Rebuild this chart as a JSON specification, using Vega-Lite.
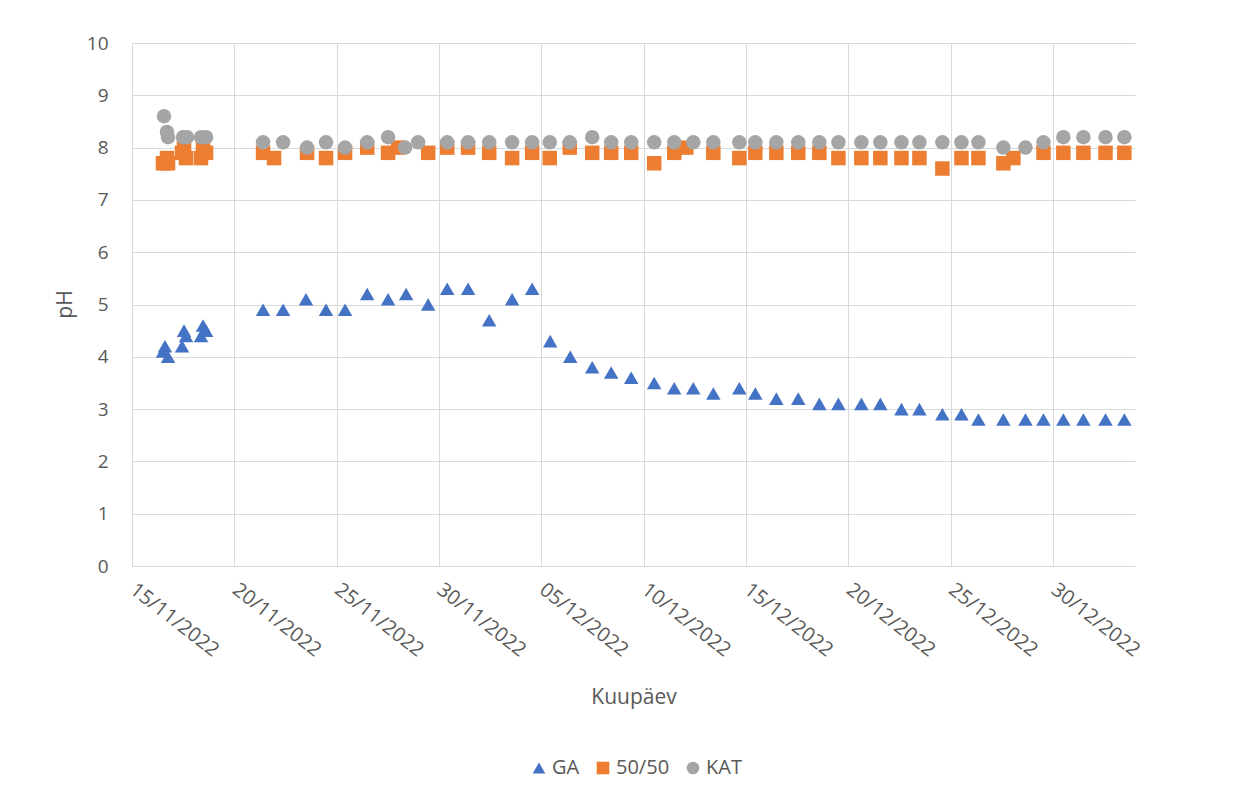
{
  "$schema": "https://vega.github.io/schema/vega-lite/v6.json",
  "autosize": {"type": "none"},
  "width": 1003,
  "height": 523,
  "padding": {"left": 132, "top": 43, "right": 113, "bottom": 234},
  "background": "white",
  "config": {
    "view": {"stroke": null},
    "font": "Open Sans",
    "axis": {"labelColor": "#595959", "titleColor": "#595959", "labelFont": "Open Sans", "titleFont": "Open Sans", "labelFontSize": 19, "titleFontSize": 21, "titleFontWeight": "normal", "gridColor": "#D9D9D9", "gridWidth": 1, "domain": false, "ticks": false}
  },
  "data": {"values": [
    {"series": "GA", "date": "2022-11-16T12:20:00", "pH": 4.1},
    {"series": "GA", "date": "2022-11-16T14:40:00", "pH": 4.2},
    {"series": "GA", "date": "2022-11-16T18:15:00", "pH": 4.0},
    {"series": "GA", "date": "2022-11-17T10:40:00", "pH": 4.2},
    {"series": "GA", "date": "2022-11-17T13:00:00", "pH": 4.5},
    {"series": "GA", "date": "2022-11-17T15:20:00", "pH": 4.4},
    {"series": "GA", "date": "2022-11-18T08:55:00", "pH": 4.4},
    {"series": "GA", "date": "2022-11-18T11:15:00", "pH": 4.6},
    {"series": "GA", "date": "2022-11-18T14:50:00", "pH": 4.5},
    {"series": "GA", "date": "2022-11-21T09:40:00", "pH": 4.9},
    {"series": "GA", "date": "2022-11-22T09:10:00", "pH": 4.9},
    {"series": "GA", "date": "2022-11-23T12:00:00", "pH": 5.1},
    {"series": "GA", "date": "2022-11-24T11:30:00", "pH": 4.9},
    {"series": "GA", "date": "2022-11-25T09:50:00", "pH": 4.9},
    {"series": "GA", "date": "2022-11-26T11:45:00", "pH": 5.2},
    {"series": "GA", "date": "2022-11-27T12:15:00", "pH": 5.1},
    {"series": "GA", "date": "2022-11-28T09:25:00", "pH": 5.2},
    {"series": "GA", "date": "2022-11-29T11:15:00", "pH": 5.0},
    {"series": "GA", "date": "2022-11-30T09:35:00", "pH": 5.3},
    {"series": "GA", "date": "2022-12-01T10:05:00", "pH": 5.3},
    {"series": "GA", "date": "2022-12-02T10:50:00", "pH": 4.7},
    {"series": "GA", "date": "2022-12-03T13:40:00", "pH": 5.1},
    {"series": "GA", "date": "2022-12-04T13:10:00", "pH": 5.3},
    {"series": "GA", "date": "2022-12-05T10:20:00", "pH": 4.3},
    {"series": "GA", "date": "2022-12-06T09:50:00", "pH": 4.0},
    {"series": "GA", "date": "2022-12-07T11:35:00", "pH": 3.8},
    {"series": "GA", "date": "2022-12-08T09:50:00", "pH": 3.7},
    {"series": "GA", "date": "2022-12-09T09:20:00", "pH": 3.6},
    {"series": "GA", "date": "2022-12-10T12:15:00", "pH": 3.5},
    {"series": "GA", "date": "2022-12-11T11:45:00", "pH": 3.4},
    {"series": "GA", "date": "2022-12-12T10:05:00", "pH": 3.4},
    {"series": "GA", "date": "2022-12-13T09:35:00", "pH": 3.3},
    {"series": "GA", "date": "2022-12-14T16:05:00", "pH": 3.4},
    {"series": "GA", "date": "2022-12-15T10:50:00", "pH": 3.3},
    {"series": "GA", "date": "2022-12-16T11:30:00", "pH": 3.2},
    {"series": "GA", "date": "2022-12-17T13:10:00", "pH": 3.2},
    {"series": "GA", "date": "2022-12-18T13:55:00", "pH": 3.1},
    {"series": "GA", "date": "2022-12-19T12:15:00", "pH": 3.1},
    {"series": "GA", "date": "2022-12-20T15:10:00", "pH": 3.1},
    {"series": "GA", "date": "2022-12-21T13:25:00", "pH": 3.1},
    {"series": "GA", "date": "2022-12-22T14:10:00", "pH": 3.0},
    {"series": "GA", "date": "2022-12-23T11:15:00", "pH": 3.0},
    {"series": "GA", "date": "2022-12-24T14:10:00", "pH": 2.9},
    {"series": "GA", "date": "2022-12-25T12:30:00", "pH": 2.9},
    {"series": "GA", "date": "2022-12-26T08:25:00", "pH": 2.8},
    {"series": "GA", "date": "2022-12-27T13:40:00", "pH": 2.8},
    {"series": "GA", "date": "2022-12-28T15:35:00", "pH": 2.8},
    {"series": "GA", "date": "2022-12-29T12:40:00", "pH": 2.8},
    {"series": "GA", "date": "2022-12-30T12:00:00", "pH": 2.8},
    {"series": "GA", "date": "2022-12-31T11:30:00", "pH": 2.8},
    {"series": "GA", "date": "2023-01-01T13:25:00", "pH": 2.8},
    {"series": "GA", "date": "2023-01-02T11:30:00", "pH": 2.8},
    {"series": "50/50", "date": "2022-11-16T12:20:00", "pH": 7.7},
    {"series": "50/50", "date": "2022-11-16T17:00:00", "pH": 7.8},
    {"series": "50/50", "date": "2022-11-16T18:15:00", "pH": 7.7},
    {"series": "50/50", "date": "2022-11-17T10:40:00", "pH": 7.9},
    {"series": "50/50", "date": "2022-11-17T13:00:00", "pH": 8.0},
    {"series": "50/50", "date": "2022-11-17T15:20:00", "pH": 7.8},
    {"series": "50/50", "date": "2022-11-18T08:55:00", "pH": 7.8},
    {"series": "50/50", "date": "2022-11-18T11:15:00", "pH": 8.0},
    {"series": "50/50", "date": "2022-11-18T14:50:00", "pH": 7.9},
    {"series": "50/50", "date": "2022-11-21T09:40:00", "pH": 7.9},
    {"series": "50/50", "date": "2022-11-21T22:35:00", "pH": 7.8},
    {"series": "50/50", "date": "2022-11-23T13:15:00", "pH": 7.9},
    {"series": "50/50", "date": "2022-11-24T11:30:00", "pH": 7.8},
    {"series": "50/50", "date": "2022-11-25T09:50:00", "pH": 7.9},
    {"series": "50/50", "date": "2022-11-26T11:45:00", "pH": 8.0},
    {"series": "50/50", "date": "2022-11-27T12:15:00", "pH": 7.9},
    {"series": "50/50", "date": "2022-11-28T00:00:00", "pH": 8.0},
    {"series": "50/50", "date": "2022-11-29T11:15:00", "pH": 7.9},
    {"series": "50/50", "date": "2022-11-30T09:35:00", "pH": 8.0},
    {"series": "50/50", "date": "2022-12-01T10:05:00", "pH": 8.0},
    {"series": "50/50", "date": "2022-12-02T10:50:00", "pH": 7.9},
    {"series": "50/50", "date": "2022-12-03T13:40:00", "pH": 7.8},
    {"series": "50/50", "date": "2022-12-04T13:10:00", "pH": 7.9},
    {"series": "50/50", "date": "2022-12-05T09:50:00", "pH": 7.8},
    {"series": "50/50", "date": "2022-12-06T09:15:00", "pH": 8.0},
    {"series": "50/50", "date": "2022-12-07T11:35:00", "pH": 7.9},
    {"series": "50/50", "date": "2022-12-08T09:50:00", "pH": 7.9},
    {"series": "50/50", "date": "2022-12-09T09:20:00", "pH": 7.9},
    {"series": "50/50", "date": "2022-12-10T12:15:00", "pH": 7.7},
    {"series": "50/50", "date": "2022-12-11T11:45:00", "pH": 7.9},
    {"series": "50/50", "date": "2022-12-12T01:55:00", "pH": 8.0},
    {"series": "50/50", "date": "2022-12-13T09:35:00", "pH": 7.9},
    {"series": "50/50", "date": "2022-12-14T16:05:00", "pH": 7.8},
    {"series": "50/50", "date": "2022-12-15T10:50:00", "pH": 7.9},
    {"series": "50/50", "date": "2022-12-16T11:30:00", "pH": 7.9},
    {"series": "50/50", "date": "2022-12-17T13:10:00", "pH": 7.9},
    {"series": "50/50", "date": "2022-12-18T13:55:00", "pH": 7.9},
    {"series": "50/50", "date": "2022-12-19T12:15:00", "pH": 7.8},
    {"series": "50/50", "date": "2022-12-20T15:10:00", "pH": 7.8},
    {"series": "50/50", "date": "2022-12-21T13:25:00", "pH": 7.8},
    {"series": "50/50", "date": "2022-12-22T14:10:00", "pH": 7.8},
    {"series": "50/50", "date": "2022-12-23T11:15:00", "pH": 7.8},
    {"series": "50/50", "date": "2022-12-24T14:10:00", "pH": 7.6},
    {"series": "50/50", "date": "2022-12-25T12:30:00", "pH": 7.8},
    {"series": "50/50", "date": "2022-12-26T08:25:00", "pH": 7.8},
    {"series": "50/50", "date": "2022-12-27T13:40:00", "pH": 7.7},
    {"series": "50/50", "date": "2022-12-28T01:25:00", "pH": 7.8},
    {"series": "50/50", "date": "2022-12-29T12:40:00", "pH": 7.9},
    {"series": "50/50", "date": "2022-12-30T12:00:00", "pH": 7.9},
    {"series": "50/50", "date": "2022-12-31T11:30:00", "pH": 7.9},
    {"series": "50/50", "date": "2023-01-01T13:25:00", "pH": 7.9},
    {"series": "50/50", "date": "2023-01-02T11:30:00", "pH": 7.9},
    {"series": "KAT", "date": "2022-11-16T13:30:00", "pH": 8.6},
    {"series": "KAT", "date": "2022-11-16T17:00:00", "pH": 8.3},
    {"series": "KAT", "date": "2022-11-16T18:15:00", "pH": 8.2},
    {"series": "KAT", "date": "2022-11-17T11:50:00", "pH": 8.2},
    {"series": "KAT", "date": "2022-11-17T16:30:00", "pH": 8.2},
    {"series": "KAT", "date": "2022-11-18T08:55:00", "pH": 8.2},
    {"series": "KAT", "date": "2022-11-18T14:50:00", "pH": 8.2},
    {"series": "KAT", "date": "2022-11-21T09:40:00", "pH": 8.1},
    {"series": "KAT", "date": "2022-11-22T09:10:00", "pH": 8.1},
    {"series": "KAT", "date": "2022-11-23T13:15:00", "pH": 8.0},
    {"series": "KAT", "date": "2022-11-24T11:30:00", "pH": 8.1},
    {"series": "KAT", "date": "2022-11-25T09:50:00", "pH": 8.0},
    {"series": "KAT", "date": "2022-11-26T11:45:00", "pH": 8.1},
    {"series": "KAT", "date": "2022-11-27T12:15:00", "pH": 8.2},
    {"series": "KAT", "date": "2022-11-28T08:10:00", "pH": 8.0},
    {"series": "KAT", "date": "2022-11-28T23:30:00", "pH": 8.1},
    {"series": "KAT", "date": "2022-11-30T09:35:00", "pH": 8.1},
    {"series": "KAT", "date": "2022-12-01T10:05:00", "pH": 8.1},
    {"series": "KAT", "date": "2022-12-02T10:50:00", "pH": 8.1},
    {"series": "KAT", "date": "2022-12-03T13:40:00", "pH": 8.1},
    {"series": "KAT", "date": "2022-12-04T13:10:00", "pH": 8.1},
    {"series": "KAT", "date": "2022-12-05T09:50:00", "pH": 8.1},
    {"series": "KAT", "date": "2022-12-06T09:15:00", "pH": 8.1},
    {"series": "KAT", "date": "2022-12-07T11:35:00", "pH": 8.2},
    {"series": "KAT", "date": "2022-12-08T09:50:00", "pH": 8.1},
    {"series": "KAT", "date": "2022-12-09T09:20:00", "pH": 8.1},
    {"series": "KAT", "date": "2022-12-10T12:15:00", "pH": 8.1},
    {"series": "KAT", "date": "2022-12-11T11:45:00", "pH": 8.1},
    {"series": "KAT", "date": "2022-12-12T10:05:00", "pH": 8.1},
    {"series": "KAT", "date": "2022-12-13T09:35:00", "pH": 8.1},
    {"series": "KAT", "date": "2022-12-14T16:05:00", "pH": 8.1},
    {"series": "KAT", "date": "2022-12-15T10:50:00", "pH": 8.1},
    {"series": "KAT", "date": "2022-12-16T11:30:00", "pH": 8.1},
    {"series": "KAT", "date": "2022-12-17T13:10:00", "pH": 8.1},
    {"series": "KAT", "date": "2022-12-18T13:55:00", "pH": 8.1},
    {"series": "KAT", "date": "2022-12-19T12:15:00", "pH": 8.1},
    {"series": "KAT", "date": "2022-12-20T15:10:00", "pH": 8.1},
    {"series": "KAT", "date": "2022-12-21T13:25:00", "pH": 8.1},
    {"series": "KAT", "date": "2022-12-22T14:10:00", "pH": 8.1},
    {"series": "KAT", "date": "2022-12-23T11:15:00", "pH": 8.1},
    {"series": "KAT", "date": "2022-12-24T14:10:00", "pH": 8.1},
    {"series": "KAT", "date": "2022-12-25T12:30:00", "pH": 8.1},
    {"series": "KAT", "date": "2022-12-26T08:25:00", "pH": 8.1},
    {"series": "KAT", "date": "2022-12-27T13:40:00", "pH": 8.0},
    {"series": "KAT", "date": "2022-12-28T15:35:00", "pH": 8.0},
    {"series": "KAT", "date": "2022-12-29T12:40:00", "pH": 8.1},
    {"series": "KAT", "date": "2022-12-30T12:00:00", "pH": 8.2},
    {"series": "KAT", "date": "2022-12-31T11:30:00", "pH": 8.2},
    {"series": "KAT", "date": "2023-01-01T13:25:00", "pH": 8.2},
    {"series": "KAT", "date": "2023-01-02T11:30:00", "pH": 8.2}
  ]},
  "mark": {"type": "point", "filled": true, "opacity": 1, "size": 210},
  "encoding": {
    "x": {
      "field": "date", "type": "temporal", "title": "Kuupäev",
      "scale": {"domain": [{"year": 2022, "month": 11, "date": 15}, {"year": 2023, "month": 1, "date": 3}], "nice": false},
      "axis": {
        "values": [
          {"year": 2022, "month": 11, "date": 15},
          {"year": 2022, "month": 11, "date": 20},
          {"year": 2022, "month": 11, "date": 25},
          {"year": 2022, "month": 11, "date": 30},
          {"year": 2022, "month": 12, "date": 5},
          {"year": 2022, "month": 12, "date": 10},
          {"year": 2022, "month": 12, "date": 15},
          {"year": 2022, "month": 12, "date": 20},
          {"year": 2022, "month": 12, "date": 25},
          {"year": 2022, "month": 12, "date": 30}
        ],
        "format": "%d/%m/%Y",
        "labelAngle": 38,
        "labelFontSize": 20,
        "labelAlign": "left",
        "labelBaseline": "middle",
        "labelPadding": 21,
        "labelOverlap": false,
        "labelBound": false,
        "grid": true,
        "titleY": 131,
        "titleBaseline": "middle",
        "titleAnchor": "middle"
      }
    },
    "y": {
      "field": "pH", "type": "quantitative", "title": "pH",
      "scale": {"domain": [0, 10], "nice": false, "zero": true},
      "axis": {
        "values": [0, 1, 2, 3, 4, 5, 6, 7, 8, 9, 10],
        "labelPadding": 24,
        "grid": true,
        "titleX": -67,
        "titleY": 261,
        "titleAngle": -90,
        "titleAlign": "center",
        "titleBaseline": "middle"
      }
    },
    "color": {
      "field": "series", "type": "nominal",
      "scale": {"domain": ["GA", "50/50", "KAT"], "range": ["#4472C4", "#ED7D31", "#A5A5A5"]},
      "legend": {
        "title": null,
        "orient": "none",
        "direction": "horizontal",
        "legendX": 397,
        "legendY": 715,
        "labelFontSize": 20,
        "labelFont": "Open Sans",
        "labelColor": "#595959",
        "symbolSize": 160,
        "symbolOpacity": 1,
        "columnPadding": 13,
        "labelOffset": 3
      }
    },
    "shape": {
      "field": "series", "type": "nominal",
      "scale": {"domain": ["GA", "50/50", "KAT"], "range": ["triangle-up", "square", "circle"]}
    }
  }
}
